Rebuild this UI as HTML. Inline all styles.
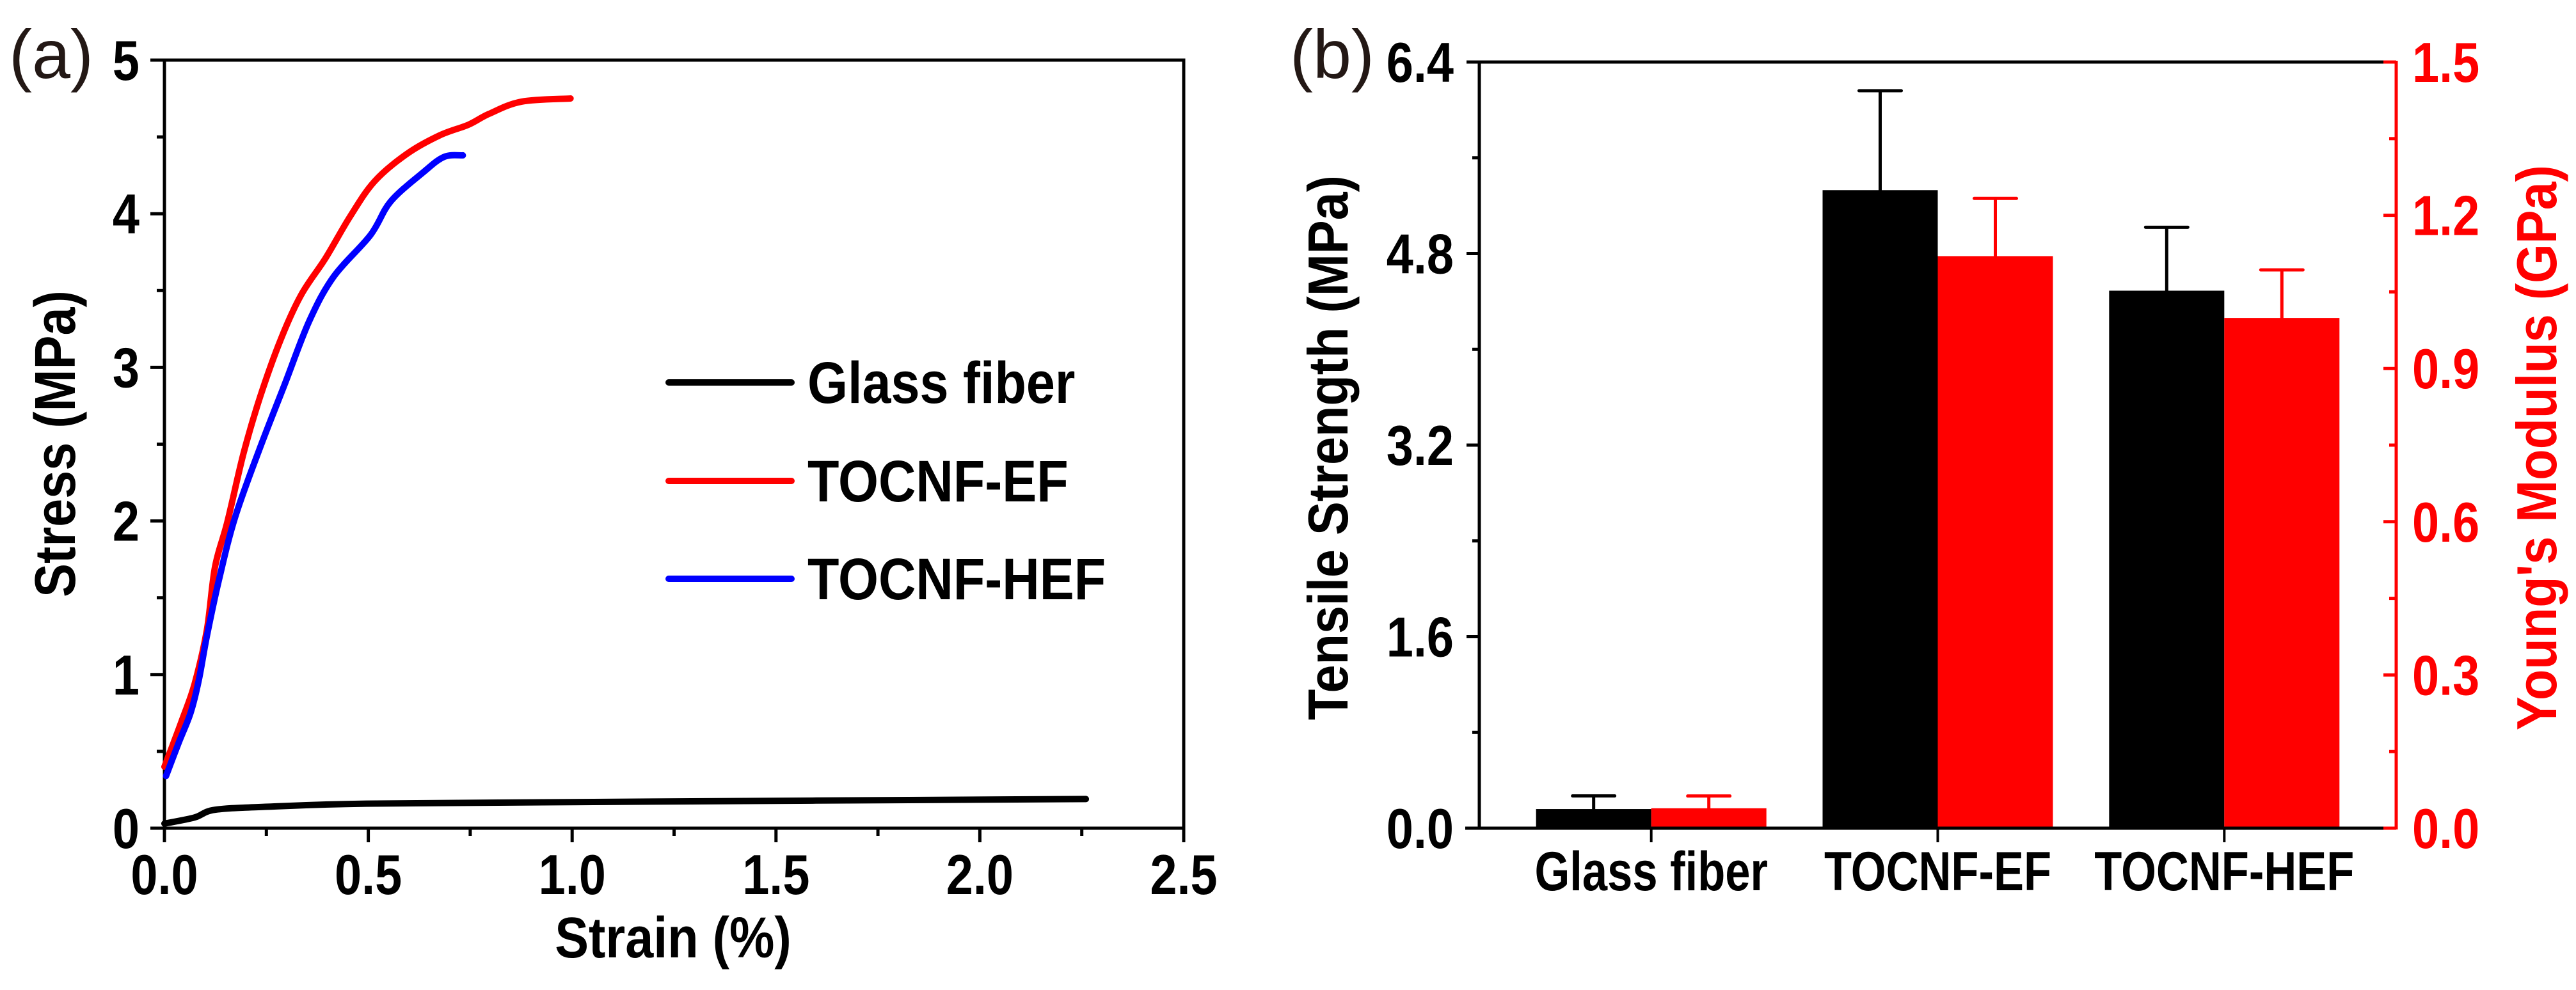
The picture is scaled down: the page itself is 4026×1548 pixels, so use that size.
<!DOCTYPE html>
<html><head><meta charset="utf-8">
<style>
html,body{margin:0;padding:0;background:#fff;}
svg{display:block;}
text{font-family:"Liberation Sans",Arial,sans-serif;}
</style></head>
<body>
<svg id="fig" width="4026" height="1548" viewBox="0 0 4026 1548" xmlns="http://www.w3.org/2000/svg">
<g id="pa"></g>
<g id="pb"></g>
</svg>
<script>
// ---------- Panel (a) data ----------
const glassStrain=[0,0.074,0.124,0.255,0.495,0.996,1.598,2.26];
const glassStress=[0.03,0.07,0.12,0.14,0.16,0.17,0.18,0.19];
const efStrain=[0,0.044,0.074,0.104,0.124,0.154,0.194,0.235,0.285,0.335,0.395,0.455,0.515,0.595,0.675,0.746,0.796,0.876,0.996];
const efStress=[0.40,0.71,0.94,1.29,1.70,1.99,2.44,2.81,3.18,3.47,3.71,3.98,4.21,4.39,4.51,4.58,4.65,4.73,4.75];
const hefStrain=[0.004,0.034,0.064,0.084,0.104,0.134,0.174,0.235,0.295,0.355,0.415,0.505,0.555,0.635,0.686,0.732];
const hefStress=[0.34,0.55,0.75,0.96,1.25,1.62,2.03,2.48,2.89,3.30,3.59,3.86,4.08,4.27,4.37,4.38];
const aXTicks=[0,0.5,1.0,1.5,2.0,2.5];
const aXTickLabels=["0.0","0.5","1.0","1.5","2.0","2.5"];
const aYTicks=[0,1,2,3,4,5];
const aYTickLabels=["0","1","2","3","4","5"];
const legendLabels=["Glass fiber","TOCNF-EF","TOCNF-HEF"];
// ---------- Panel (b) data ----------
const categories=["Glass fiber","TOCNF-EF","TOCNF-HEF"];
const tensile=[0.16,5.33,4.49];
const tensileErr=[0.11,0.83,0.53];
const modulus=[0.039,1.12,0.999];
const modulusErr=[0.024,0.113,0.094];
const bLeftTicks=[0,1.6,3.2,4.8,6.4];
const bLeftTickLabels=["0.0","1.6","3.2","4.8","6.4"];
const bRightTicks=[0,0.3,0.6,0.9,1.2,1.5];
const bRightTickLabels=["0.0","0.3","0.6","0.9","1.2","1.5"];

const NS="http://www.w3.org/2000/svg";
function mk(parent,tag,attrs,txt){const e=document.createElementNS(NS,tag);for(const k in attrs)e.setAttribute(k,attrs[k]);if(txt!==undefined)e.textContent=txt;parent.appendChild(e);return e;}
// condensed text: position via transform
function tx(parent,x,y,rot,sx,attrs,txt){
  const a=Object.assign({x:0,y:0,transform:`translate(${x},${y})`+(rot?` rotate(${rot})`:'')+` scale(${sx},1)`},attrs);
  return mk(parent,'text',a,txt);
}

// ---- Panel a ----
const pa=document.getElementById('pa');
const aL=257,aR=1850,aT=94,aB=1295;
const ax=s=>aL+(s-0)/(2.5-0)*(aR-aL);
const ay=v=>aB-(v-0)/(5-0)*(aB-aT);
let e;
e=mk(pa,'rect',{x:aL,y:aT,width:aR-aL,height:aB-aT,fill:'none',stroke:'#000','stroke-width':5});


for(let i=0;i<aXTicks.length;i++){
  const x=ax(aXTicks[i]);
  e=mk(pa,'line',{x1:x,x2:x,y1:aB,y2:aB+22,stroke:'#000','stroke-width':5});
  
  
  e=tx(pa,x,1398,0,0.86,{'text-anchor':'middle','font-size':88,'font-weight':'bold'},aXTickLabels[i]);
  
  
  if(i<aXTicks.length-1){const xm=ax(aXTicks[i]+0.25);
    e=mk(pa,'line',{x1:xm,x2:xm,y1:aB,y2:aB+12,stroke:'#000','stroke-width':5});
    
    }
}
for(let i=0;i<aYTicks.length;i++){
  const y=ay(aYTicks[i]);
  e=mk(pa,'line',{x1:aL-22,x2:aL,y1:y,y2:y,stroke:'#000','stroke-width':5});
  
  
  e=tx(pa,218,y+31,0,0.86,{'text-anchor':'end','font-size':88,'font-weight':'bold'},aYTickLabels[i]);
  
  
  if(i<aYTicks.length-1){const ym=ay(aYTicks[i]+0.5);
    e=mk(pa,'line',{x1:aL-12,x2:aL,y1:ym,y2:ym,stroke:'#000','stroke-width':5});
    
    }
}
function curve(xs,ys,color,name){
  let d='M'+ax(xs[0]).toFixed(1)+' '+ay(ys[0]).toFixed(1);
  for(let i=1;i<xs.length;i++){
    const p0=[ax(xs[Math.max(0,i-2)]),ay(ys[Math.max(0,i-2)])],p1=[ax(xs[i-1]),ay(ys[i-1])],p2=[ax(xs[i]),ay(ys[i])],p3=[ax(xs[Math.min(xs.length-1,i+1)]),ay(ys[Math.min(xs.length-1,i+1)])];
    const c1=[p1[0]+(p2[0]-p0[0])/6,p1[1]+(p2[1]-p0[1])/6],c2=[p2[0]-(p3[0]-p1[0])/6,p2[1]-(p3[1]-p1[1])/6];
    d+=` C${c1[0].toFixed(1)} ${c1[1].toFixed(1)} ${c2[0].toFixed(1)} ${c2[1].toFixed(1)} ${p2[0].toFixed(1)} ${p2[1].toFixed(1)}`;
  }
  const p=mk(pa,'path',{d:d,fill:'none',stroke:color,'stroke-width':10,'stroke-linejoin':'round','stroke-linecap':'round'});
  
  
}
curve(glassStrain,glassStress,'#000','glass-fiber-curve');
curve(efStrain,efStress,'#ff0000','tocnf-ef-curve');
curve(hefStrain,hefStress,'#0000ff','tocnf-hef-curve');
const legColors=['#000','#ff0000','#0000ff'];
const legY=[598,752,905];
for(let i=0;i<3;i++){
  e=mk(pa,'line',{x1:1045,x2:1237,y1:legY[i],y2:legY[i],stroke:legColors[i],'stroke-width':10,'stroke-linecap':'round'});
  
  
  e=tx(pa,1262,legY[i]+32,0,0.88,{'font-size':92,'font-weight':'bold'},legendLabels[i]);
  
  
}
e=tx(pa,1052,1497,0,0.88,{'text-anchor':'middle','font-size':90,'font-weight':'bold'},'Strain (%)');


e=tx(pa,117,694,-90,0.88,{'text-anchor':'middle','font-size':90,'font-weight':'bold'},'Stress (MPa)');


e=mk(pa,'text',{x:14,y:122,'font-size':108,fill:'#231815'},'(a)');



// ---- Panel b ----
const pb=document.getElementById('pb');
const bL=2312,bR=3745,bT=97,bB=1295;
const bx=c=>bL+(c-0.4)/(3.6-0.4)*(bR-bL);
const byL=v=>bB-v/6.4*(bB-bT);
const byR=v=>bB-v/1.5*(bB-bT);
const barW=180;
for(let i=0;i<categories.length;i++){
  const cx=bx(i+1);
  e=mk(pb,'rect',{x:cx-barW,y:byL(tensile[i]),width:barW,height:bB-byL(tensile[i]),fill:'#000'});
  
  
  e=mk(pb,'rect',{x:cx,y:byR(modulus[i]),width:barW,height:bB-byR(modulus[i]),fill:'#ff0000'});
  
  
  const ex=cx-barW/2, ey=byL(tensile[i]+tensileErr[i]);
  e=mk(pb,'path',{d:`M${ex} ${byL(tensile[i])} V${ey} M${ex-33} ${ey} H${ex+33}`,stroke:'#000','stroke-width':5,'stroke-linecap':'round',fill:'none'});
  
  
  const mx=cx+barW/2, my=byR(modulus[i]+modulusErr[i]);
  e=mk(pb,'path',{d:`M${mx} ${byR(modulus[i])} V${my} M${mx-33} ${my} H${mx+33}`,stroke:'#ff0000','stroke-width':5,'stroke-linecap':'round',fill:'none'});
  
  
  e=mk(pb,'line',{x1:cx,x2:cx,y1:bB,y2:bB+22,stroke:'#000','stroke-width':4});
  
  
  e=tx(pb,cx,1392,0,0.82,{'text-anchor':'middle','font-size':86,'font-weight':'bold'},categories[i]);
  
  
}
e=mk(pb,'line',{x1:2290,x2:bR-20,y1:bB,y2:bB,stroke:'#000','stroke-width':5});


e=mk(pb,'line',{x1:bR-20,x2:bR,y1:bB,y2:bB,stroke:'#ff0000','stroke-width':5});


e=mk(pb,'line',{x1:bL,x2:bR-20,y1:bT,y2:bT,stroke:'#000','stroke-width':5});


e=mk(pb,'line',{x1:bL,x2:bL,y1:bT,y2:bB,stroke:'#000','stroke-width':5});


e=mk(pb,'line',{x1:bR,x2:bR,y1:bT-2,y2:bB+2,stroke:'#ff0000','stroke-width':5});


for(let i=0;i<bLeftTicks.length;i++){
  const y=byL(bLeftTicks[i]);
  e=mk(pb,'line',{x1:bL-20,x2:bL,y1:y,y2:y,stroke:'#000','stroke-width':5});
  
  
  e=tx(pb,2272,y+31,0,0.86,{'text-anchor':'end','font-size':88,'font-weight':'bold'},bLeftTickLabels[i]);
  
  
  if(i<bLeftTicks.length-1){const ym=byL(bLeftTicks[i]+0.8);
    e=mk(pb,'line',{x1:bL-11,x2:bL,y1:ym,y2:ym,stroke:'#000','stroke-width':5});
    
    }
}
for(let i=0;i<bRightTicks.length;i++){
  const y=byR(bRightTicks[i]);
  e=mk(pb,'line',{x1:bR-20,x2:bR,y1:y,y2:y,stroke:'#ff0000','stroke-width':5});
  
  
  e=tx(pb,3770,y+31,0,0.86,{'text-anchor':'start','font-size':88,'font-weight':'bold',fill:'#ff0000'},bRightTickLabels[i]);
  
  
  if(i<bRightTicks.length-1){const ym=byR(bRightTicks[i]+0.15);
    e=mk(pb,'line',{x1:bR-11,x2:bR,y1:ym,y2:ym,stroke:'#ff0000','stroke-width':5});
    
    }
}
e=tx(pb,2106,700,-90,0.9,{'text-anchor':'middle','font-size':88,'font-weight':'bold'},'Tensile Strength (MPa)');


e=tx(pb,3995,700,-90,0.9,{'text-anchor':'middle','font-size':88,'font-weight':'bold',fill:'#ff0000'},"Young's Modulus (GPa)");


e=mk(pb,'text',{x:2016,y:122,'font-size':108,fill:'#231815'},'(b)');


</script>
</body></html>
